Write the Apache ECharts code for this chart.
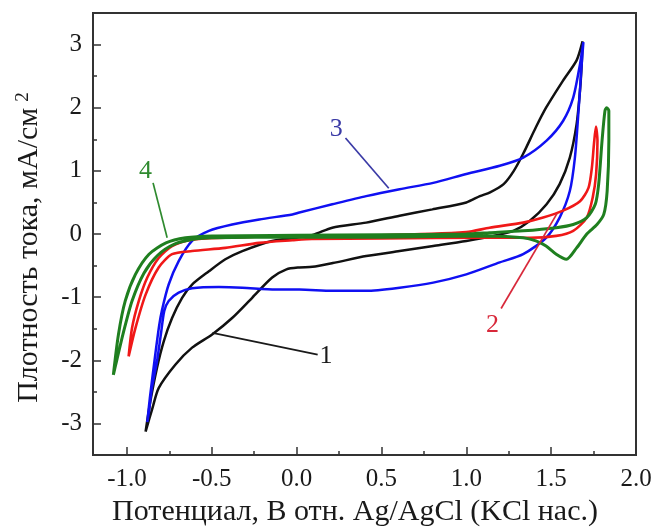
<!DOCTYPE html>
<html>
<head>
<meta charset="utf-8">
<script src="https://cdn.jsdelivr.net/npm/echarts@6/dist/echarts.min.js"></script>
<style>
  html, body { margin: 0; padding: 0; background: #fff; overflow: hidden; }
  #chart { width: 658px; height: 529px; }
</style>
</head>
<body>
<div id="chart"></div>
<script>
// Cyclic voltammograms: potential (V vs Ag/AgCl) and current density (mA/cm2)
const curve1V = [-0.89, -0.85, -0.813, -0.715, -0.616, -0.498, -0.38, -0.262, -0.144, -0.06, 0.016, 0.093, 0.213, 0.41, 0.607, 0.805, 1.0, 1.16, 1.277, 1.375, 1.473, 1.55, 1.61, 1.65, 1.67, 1.68, 1.685,
                 1.65, 1.57, 1.47, 1.41, 1.335, 1.28, 1.22, 1.14, 1.08, 1.0, 0.80, 0.607, 0.41, 0.21, 0.1, 0.0, -0.144, -0.32, -0.42, -0.517, -0.616, -0.675, -0.734, -0.783, -0.823, -0.862, -0.89];
const curve1I = [-3.13, -2.76, -2.44, -2.07, -1.80, -1.59, -1.33, -1.01, -0.69, -0.56, -0.53, -0.52, -0.46, -0.35, -0.27, -0.19, -0.11, -0.03, 0.05, 0.21, 0.47, 0.79, 1.21, 1.74, 2.27, 2.69, 3.05,
                 2.75, 2.43, 2.0, 1.69, 1.27, 1.0, 0.79, 0.66, 0.60, 0.50, 0.39, 0.29, 0.18, 0.10, -0.01, -0.06, -0.11, -0.27, -0.40, -0.59, -0.80, -1.01, -1.33, -1.70, -2.12, -2.65, -3.13];

const curve2V = [-0.99, -0.97, -0.93, -0.88, -0.813, -0.734, -0.616, -0.42, -0.2, 0.0, 0.5, 1.0, 1.137, 1.335, 1.453, 1.57, 1.67, 1.72, 1.74, 1.752, 1.764,
                 1.773, 1.765, 1.745, 1.71, 1.63, 1.53, 1.375, 1.137, 0.5, 0.09, -0.025, -0.22, -0.42, -0.616, -0.734, -0.813, -0.89, -0.95, -0.99];
const curve2I = [-1.94, -1.49, -1.06, -0.69, -0.38, -0.19, -0.09, -0.06, -0.04, -0.03, -0.02, 0.03, 0.10, 0.18, 0.26, 0.37, 0.52, 0.73, 1.05, 1.42, 1.70,
                 1.48, 0.95, 0.58, 0.26, 0.05, -0.03, -0.06, -0.06, -0.07, -0.08, -0.10, -0.14, -0.22, -0.27, -0.32, -0.53, -0.96, -1.49, -1.94];

const curve3V = [-0.88, -0.865, -0.835, -0.81, -0.793, -0.754, -0.695, -0.616, -0.517, -0.38, -0.22, -0.025, 0.016, 0.21, 0.41, 0.607, 0.805, 1.0, 1.197, 1.335, 1.473, 1.57, 1.63, 1.67, 1.69,
                 1.68, 1.66, 1.64, 1.61, 1.55, 1.47, 1.335, 1.197, 1.0, 0.805, 0.607, 0.41, 0.21, 0.016, -0.124, -0.32, -0.458, -0.616, -0.695, -0.754, -0.78, -0.80, -0.823, -0.853, -0.87, -0.88];
const curve3I = [-2.98, -2.6, -1.95, -1.45, -1.2, -0.80, -0.43, -0.11, 0.05, 0.15, 0.23, 0.31, 0.34, 0.47, 0.60, 0.71, 0.81, 0.95, 1.08, 1.21, 1.48, 1.79, 2.16, 2.69, 3.04,
                 2.69, 1.90, 1.21, 0.68, 0.26, -0.06, -0.32, -0.45, -0.64, -0.77, -0.85, -0.90, -0.90, -0.88, -0.88, -0.85, -0.84, -0.86, -0.93, -1.06, -1.22, -1.59, -2.02, -2.44, -2.81, -2.98];

const curve4V = [-1.08, -1.05, -1.01, -0.95, -0.87, -0.77, -0.655, -0.5, 0.0, 0.5, 1.0, 1.137, 1.335, 1.53, 1.63, 1.71, 1.76, 1.78, 1.80, 1.817, 1.827,
                 1.84, 1.84, 1.83, 1.81, 1.77, 1.71, 1.65, 1.59, 1.53, 1.47, 1.41, 1.335, 1.137, 0.5, 0.0, -0.5, -0.6, -0.72, -0.82, -0.9, -0.97, -1.02, -1.06, -1.08];
const curve4I = [-2.23, -1.59, -1.06, -0.64, -0.32, -0.14, -0.06, -0.03, -0.02, -0.01, 0.0, 0.02, 0.05, 0.10, 0.15, 0.26, 0.47, 0.79, 1.48, 1.95, 2.0,
                 1.95, 1.48, 0.68, 0.31, 0.15, 0.0, -0.22, -0.40, -0.32, -0.19, -0.11, -0.06, -0.03, -0.05, -0.05, -0.06, -0.08, -0.16, -0.34, -0.62, -1.06, -1.55, -2.0, -2.23];

// Axis ticks
const xMajorTicks = [-1.0, -0.5, 0.0, 0.5, 1.0, 1.5, 2.0];
const xMinorTicks = [-0.75, -0.25, 0.25, 0.75, 1.25, 1.75];
const yMajorTicks = [-3, -2, -1, 0, 1, 2, 3];
const yMinorTicks = [-2.5, -1.5, -0.5, 0.5, 1.5, 2.5];

const serif = 'Liberation Serif';
const frame = '#333';
const ink = '#1a1a1a';
const plotRect = { left: 93, right: 22, top: 13, bottom: 74 };

function pairs(v, i) { return v.map((x, k) => [x, i[k]]); }

// one voltammogram with its numbered leader label
function curve(name, v, i, color, width, labelColor, leader, textAt) {
  return {
    type: 'line', name: name, data: pairs(v, i),
    xAxisIndex: 0, yAxisIndex: 0,
    showSymbol: false, symbol: 'none', smooth: 0.25, animation: false,
    lineStyle: { color: color, width: width },
    markLine: {
      silent: true, symbol: 'none', animation: false,
      label: { show: false },
      lineStyle: { color: labelColor, width: 1.7, type: 'solid' },
      data: [[{ coord: leader[0] }, { coord: leader[1] }]]
    },
    markPoint: {
      silent: true, symbol: 'circle', symbolSize: 0, animation: false,
      label: { show: true, position: 'inside', formatter: name, color: labelColor, fontSize: 26, fontFamily: serif },
      data: [{ coord: textAt }]
    }
  };
}

// second, invisible grid carrying only the short intermediate ticks
const minorAxisBase = {
  axisLine: { show: false, onZero: false },
  axisLabel: { show: false }, splitLine: { show: false }
};

const chart = echarts.init(document.getElementById('chart'), null, { renderer: 'canvas' });
chart.setOption({
  animation: false,
  backgroundColor: '#fff',
  textStyle: { fontFamily: serif },
  grid: [
    Object.assign({ show: true, borderColor: frame, borderWidth: 2, backgroundColor: 'transparent', outerBoundsMode: 'none' }, plotRect),
    Object.assign({ show: false, outerBoundsMode: 'none' }, plotRect)
  ],
  xAxis: [
    {
      type: 'value', gridIndex: 0, min: -1.2, max: 2.0, position: 'bottom',
      axisLine: { show: true, onZero: false, lineStyle: { color: frame, width: 2 } },
      axisTick: { show: true, inside: true, length: 8, customValues: xMajorTicks, lineStyle: { color: frame, width: 1.5 } },
      axisLabel: { customValues: xMajorTicks, formatter: v => v.toFixed(1), fontSize: 25, color: ink, fontFamily: serif, margin: 12 },
      splitLine: { show: false },
      name: 'Потенциал, В отн. Ag/AgCl (KCl нас.)', nameLocation: 'middle', nameGap: 38,
      nameTextStyle: { fontSize: 30, color: ink, fontFamily: serif, padding: [0, 19, 0, 0] }
    },
    Object.assign({
      type: 'value', gridIndex: 1, min: -1.2, max: 2.0, position: 'bottom',
      axisTick: { show: true, inside: true, length: 4, customValues: xMinorTicks, lineStyle: { color: frame, width: 1.5 } }
    }, minorAxisBase)
  ],
  yAxis: [
    {
      type: 'value', gridIndex: 0, min: -3.5, max: 3.5, position: 'left',
      axisLine: { show: true, onZero: false, lineStyle: { color: frame, width: 2 } },
      axisTick: { show: true, inside: true, length: 8, customValues: yMajorTicks, lineStyle: { color: frame, width: 1.5 } },
      axisLabel: { customValues: yMajorTicks, formatter: v => String(v), fontSize: 25, color: ink, fontFamily: serif, margin: 11 },
      splitLine: { show: false },
      name: '{a|Плотность тока, мА/см}{s|2}', nameLocation: 'middle', nameGap: 49,
      nameTextStyle: {
        color: ink, fontFamily: serif, padding: [0, 27, 0, 0],
        rich: {
          a: { fontSize: 30, fontFamily: serif, color: ink },
          s: { fontSize: 19, fontFamily: serif, color: ink, verticalAlign: 'top', padding: [0, 0, 0, 6] }
        }
      }
    },
    Object.assign({
      type: 'value', gridIndex: 1, min: -3.5, max: 3.5, position: 'left',
      axisTick: { show: true, inside: true, length: 4, customValues: yMinorTicks, lineStyle: { color: frame, width: 1.5 } }
    }, minorAxisBase)
  ],
  series: [
    curve('1', curve1V, curve1I, '#111111', 2.5, '#1a1a1a', [[-0.496, -1.567], [0.124, -1.91]], [0.173, -1.94]),
    curve('3', curve3V, curve3I, '#1010f2', 2.5, '#3a3aa6', [[0.288, 1.52], [0.543, 0.725]], [0.233, 1.66]),
    curve('2', curve2V, curve2I, '#f01818', 2.6, '#d8283a', [[1.205, -1.18], [1.536, 0.33]], [1.155, -1.44]),
    curve('4', curve4V, curve4I, '#1f7f1f', 3.0, '#2f8a2f', [[-0.846, 0.81], [-0.763, -0.06]], [-0.89, 1.0])
  ]
});
</script>
</body>
</html>
